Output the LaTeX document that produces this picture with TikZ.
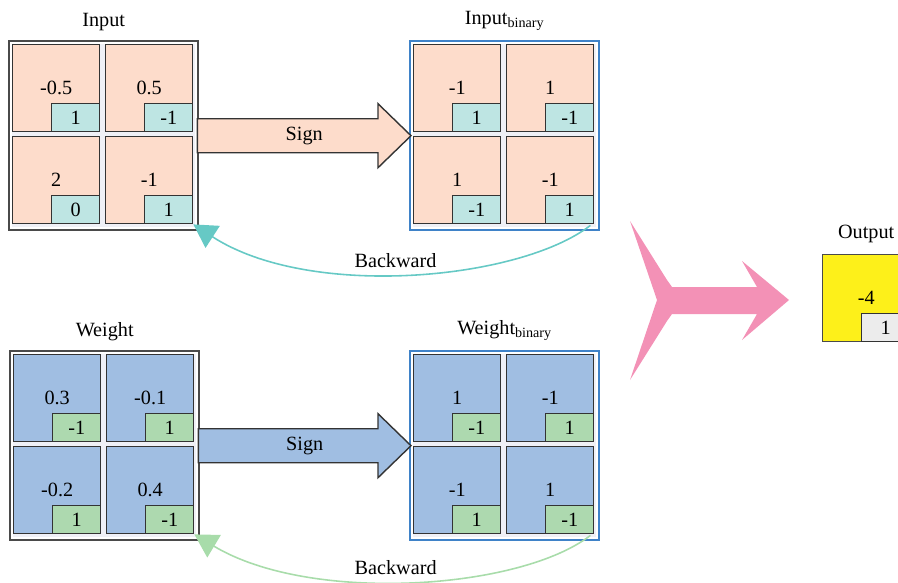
\documentclass[tikz,border=0pt]{standalone}
\usepackage{fontspec}
\setmainfont{Liberation Serif}
\usepackage{tikz}
\usetikzlibrary{arrows.meta,positioning,calc}
\definecolor{peachcell}{HTML}{FDDCCB}
\definecolor{tealbit}{HTML}{BEE5E3}
\definecolor{bluecell}{HTML}{A0BEE2}
\definecolor{greenbit}{HTML}{ADD9AF}
\definecolor{yellowcell}{HTML}{FDF01A}
\definecolor{greybit}{HTML}{ECECEC}
\definecolor{pinkarrow}{HTML}{F391B6}
\definecolor{tealline}{HTML}{66C9C5}
\definecolor{greenline}{HTML}{A8DCAA}
\definecolor{framegrey}{HTML}{4A4A4A}
\definecolor{frameblue}{HTML}{3F82C8}
\definecolor{framebg}{HTML}{EFF0F6}
\definecolor{cellline}{HTML}{333333}
\tikzset{
  gridframe/.style={
    rectangle, anchor=north west, inner sep=0pt,
    minimum width=3.7cm, minimum height=3.7cm,
    fill=framebg, draw=white, line width=1.4pt,
    preaction={draw=#1, line width=3.2pt}
  },
  cellbox/.style={
    rectangle, anchor=north west, inner sep=0pt,
    minimum width=1.74cm, minimum height=1.74cm,
    draw=cellline, line width=0.8pt, fill=#1
  },
  bitbox/.style={
    rectangle, anchor=south east, inner sep=0pt,
    minimum width=0.96cm, minimum height=0.56cm,
    draw=cellline, line width=0.8pt, fill=#1
  },
  signarrow/.style={draw=cellline, line width=0.8pt, fill=#1},
  backarrow/.style={draw=#1, line width=0.9pt,
    -{Triangle[length=0.46cm, width=0.52cm, fill=#1]}}
}

\begin{document}
\begin{tikzpicture}[x=0.02cm, y=-0.02cm, font=\fontsize{11.5pt}{14pt}\selectfont]
\clip (0,0) rectangle (898,582);

\node[gridframe=framegrey] (in) at (10,42) {};
\foreach \c/\x/\y/\v/\b in {1/12/44/-0.5/1, 2/105/44/0.5/-1, 3/12/136/2/0, 4/105/136/-1/1}{
  \node[cellbox=peachcell] (in-\c) at (\x,\y) {\v};
  \node[bitbox=tealbit] (in-\c-bit) at (in-\c.south east) {\b};
}
\node[above=0.1cm of in] (inlabel) {Input};

\node[gridframe=frameblue] (inbin) at (411,42) {};
\foreach \c/\x/\y/\v/\b in {1/413/44/-1/1, 2/506/44/1/-1, 3/413/136/1/-1, 4/506/136/-1/1}{
  \node[cellbox=peachcell] (inbin-\c) at (\x,\y) {\v};
  \node[bitbox=tealbit] (inbin-\c-bit) at (inbin-\c.south east) {\b};
}
\node[above=0.1cm of inbin] (inbinlabel) {Input\textsubscript{binary}};

\node[gridframe=framegrey] (w) at (11,352) {};
\foreach \c/\x/\y/\v/\b in {1/13/354/0.3/-1, 2/106/354/-0.1/1, 3/13/446/-0.2/1, 4/106/446/0.4/-1}{
  \node[cellbox=bluecell] (w-\c) at (\x,\y) {\v};
  \node[bitbox=greenbit] (w-\c-bit) at (w-\c.south east) {\b};
}
\node[above=0.1cm of w] (wlabel) {Weight};

\node[gridframe=frameblue] (wbin) at (411,352) {};
\foreach \c/\x/\y/\v/\b in {1/413/354/1/-1, 2/506/354/-1/1, 3/413/446/-1/1, 4/506/446/1/-1}{
  \node[cellbox=bluecell] (wbin-\c) at (\x,\y) {\v};
  \node[bitbox=greenbit] (wbin-\c-bit) at (wbin-\c.south east) {\b};
}
\node[above=0.1cm of wbin] (wbinlabel) {Weight\textsubscript{binary}};

\draw[signarrow=peachcell] ($(in.east)+(0,-17)$) -- ($(inbin.west)+(-33,-17)$)
  -- ($(inbin.west)+(-33,-32)$) -- (inbin.west) -- ($(inbin.west)+(-33,32)$)
  -- ($(inbin.west)+(-33,17)$) -- ($(in.east)+(0,17)$) -- cycle;
\node (insign) at ($(in.east)!0.5!(inbin.west)$) {Sign};

\draw[signarrow=bluecell] ($(w.east)+(0,-17)$) -- ($(wbin.west)+(-33,-17)$)
  -- ($(wbin.west)+(-33,-32)$) -- (wbin.west) -- ($(wbin.west)+(-33,32)$)
  -- ($(wbin.west)+(-33,17)$) -- ($(w.east)+(0,17)$) -- cycle;
\node (wsign) at ($(w.east)!0.5!(wbin.west)$) {Sign};

\draw[backarrow=tealline] ($(inbin-4-bit.south east)+(-4,1)$)
  .. controls (520,280) and (310,300) .. (in-4-bit.south east)
  node[pos=0.53, above] (inback) {Backward};
\draw[backarrow=greenline] ($(wbin-4-bit.south east)+(-4,1)$)
  .. controls (520,590) and (310,604) .. (w-4-bit.south east)
  node[pos=0.53, above] (wback) {Backward};

\fill[pinkarrow] (630,221) -- (667,280) -- (672,287) -- (757,287) -- (742,261)
  -- (789,300) -- (742,340) -- (757,314) -- (672,314) -- (667,321)
  -- (630,380) -- (657,300) -- cycle;

\node[cellbox=yellowcell, draw=framegrey] (out) at (822,254) {-4};
\node[bitbox=greybit] (out-bit) at (out.south east) {1};
\node[above=0.1cm of out] (outlabel) {Output};
\end{tikzpicture}
\end{document}
